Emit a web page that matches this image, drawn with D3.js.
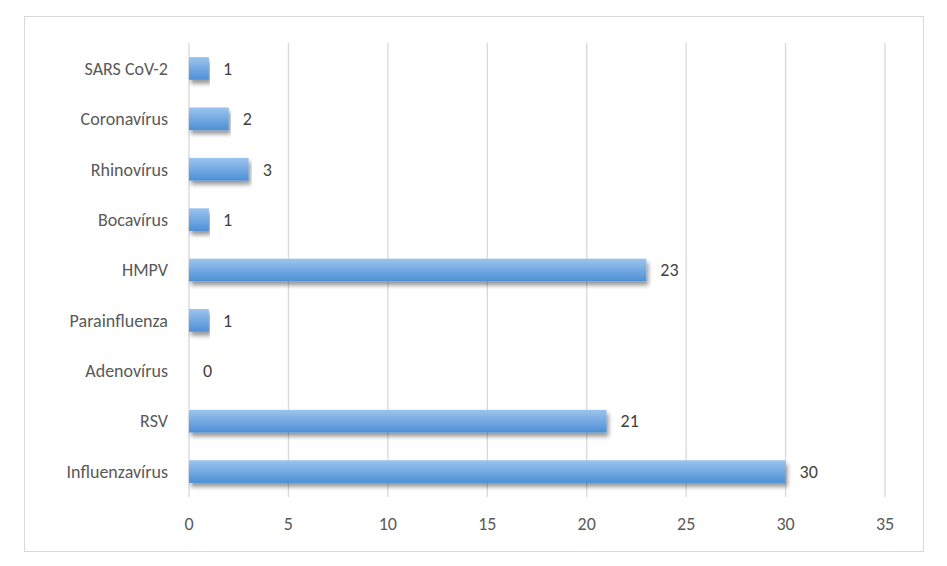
<!DOCTYPE html>
<html lang="en">
<head>
<meta charset="UTF-8">
<script src="https://d3js.org/d3.v7.min.js"></script>
<style>body{margin:0;background:#fff}svg{font-family:Calibri,Carlito,"Liberation Sans",sans-serif}</style>
</head>
<body>
<svg width="947" height="566"></svg>
<script>
let categories = ["SARS CoV-2","Coronavírus","Rhinovírus","Bocavírus","HMPV ","Parainfluenza","Adenovírus","RSV","Influenzavírus"]
let values = [1,2,3,1,23,1,0,21,30]
let ticks = [0,5,10,15,20,25,30,35]

let svg = d3.select('svg')
svg.append('rect').attr('x',24.5).attr('y',16.5).attr('width',899).attr('height',535)
   .attr('fill','#fff').attr('stroke','#d9d9d9')

let defs = svg.append('defs')
let g = defs.append('linearGradient').attr('id','bg').attr('x1',0).attr('y1',0).attr('x2',0).attr('y2',1)
g.append('stop').attr('offset','0%').attr('stop-color','#9cc4ee')
g.append('stop').attr('offset','100%').attr('stop-color','#4d8fd6')
let f = defs.append('filter').attr('id','sh').attr('x','-5%').attr('y','-20%').attr('width','110%').attr('height','180%')
f.append('feDropShadow').attr('dx',2).attr('dy',4).attr('stdDeviation',2).attr('flood-color','#000').attr('flood-opacity',0.4)

let x = d3.scaleLinear().domain([0,35]).range([189,885])
let y = d3.scaleBand().domain(categories).range([43,497]).paddingInner(0.55).paddingOuter(0.28)

svg.append('g').selectAll('line').data(ticks).enter().append('line')
   .attr('x1',d=>x(d)).attr('x2',d=>x(d)).attr('y1',43).attr('y2',497)
   .attr('stroke','#d9d9d9').attr('stroke-width',1.3)

svg.append('g').selectAll('rect').data(values).enter().append('rect')
   .attr('x',x(0)).attr('y',(d,i)=>y(categories[i]))
   .attr('width',d=>x(d)-x(0)).attr('height',y.bandwidth())
   .attr('fill','url(#bg)').attr('filter','url(#sh)')

svg.append('g').selectAll('text').data(values).enter().append('text')
   .attr('x',d=>x(d)+14).attr('y',(d,i)=>y(categories[i])+y.bandwidth()/2)
   .attr('dy','0.35em').attr('font-size',18).attr('fill','#404040').text(d=>d)

svg.append('g').selectAll('text').data(categories).enter().append('text')
   .attr('x',168).attr('y',d=>y(d)+y.bandwidth()/2).attr('dy','0.35em')
   .attr('text-anchor','end').attr('font-size',18).attr('fill','#595959').text(d=>d)

svg.append('g').selectAll('text').data(ticks).enter().append('text')
   .attr('x',d=>x(d)).attr('y',530).attr('text-anchor','middle')
   .attr('font-size',18).attr('fill','#595959').text(d=>d)
</script>
</body>
</html>
